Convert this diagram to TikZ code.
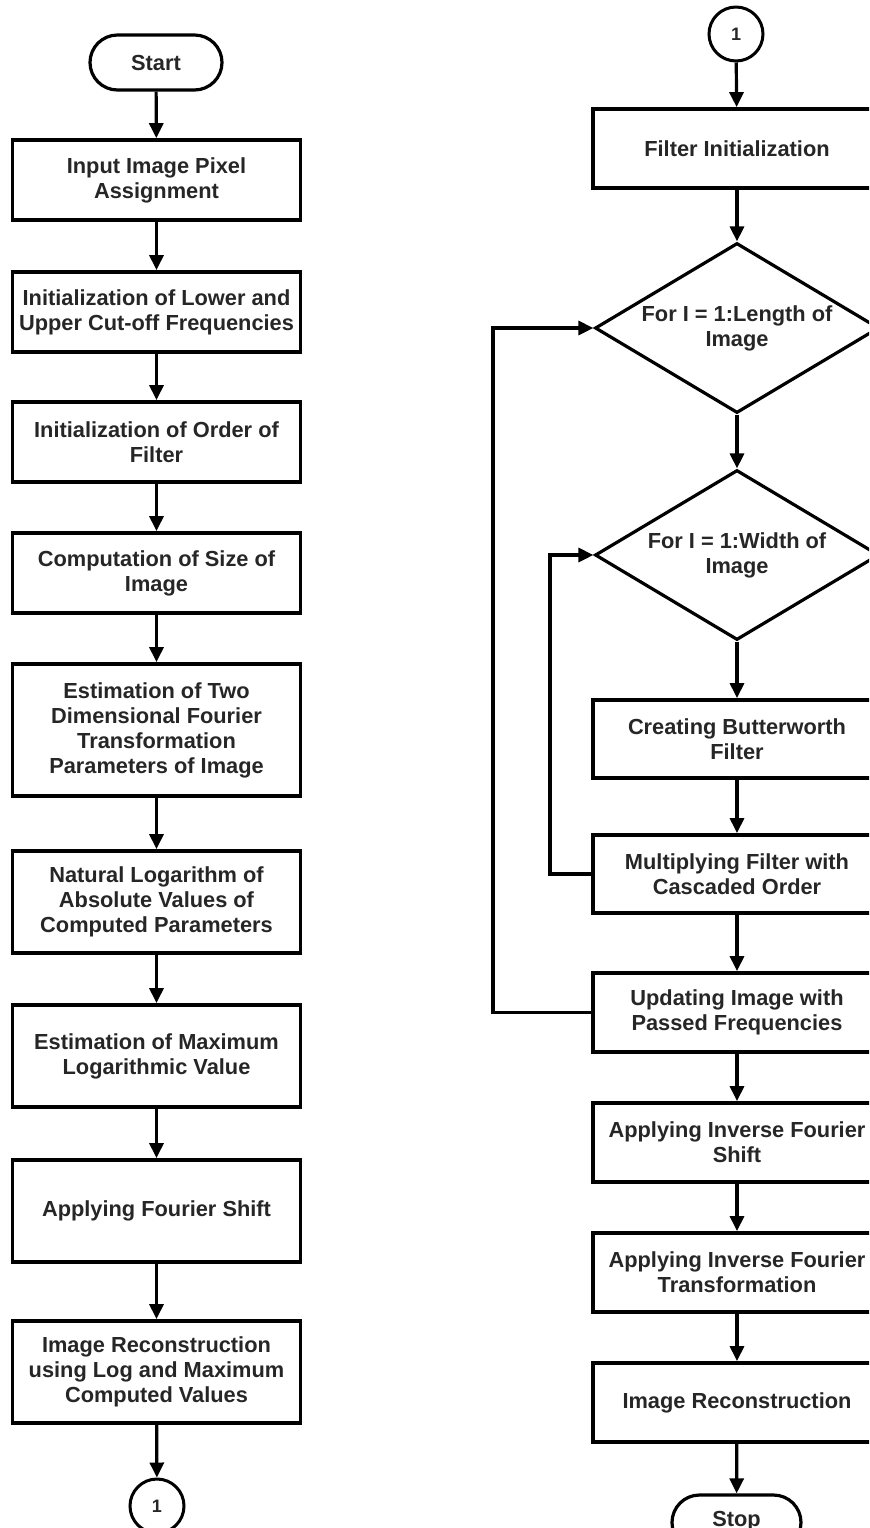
\documentclass[tikz,border=0pt]{standalone}
\usepackage{fontspec}
\setmainfont{Liberation Sans}
\usetikzlibrary{shapes.geometric,shapes.misc,arrows.meta}
\begin{document}
\begin{tikzpicture}[x=0.5pt,y=-0.5pt,
  font=\bfseries\fontsize{10.9}{12.5}\selectfont,
  box/.style={draw,line width=1.9pt,rectangle,minimum width=144pt,inner sep=0pt,align=center,text=black!85},
  term/.style={draw,line width=1.6pt,rounded rectangle,minimum width=66pt,minimum height=27.5pt,inner sep=0pt,text=black!85},
  conn/.style={draw,line width=1.5pt,circle,minimum size=27pt,inner sep=0pt,font=\bfseries\fontsize{9}{10}\selectfont,text=black!85},
  dec/.style={draw,line width=1.6pt,diamond,aspect=1.67,minimum width=142pt,minimum height=85pt,inner sep=0pt,align=center,text=black!85},
  arr/.style={line width=1.6pt,-{Triangle[length=7.5pt,width=7pt]}},
  ln/.style={line width=1.6pt}]
\useasboundingbox (0,0) rectangle (869,1528);
\clip (0,0) rectangle (869,1528);
% left column
\node[term] (start) at (156,62.5) {Start};
\node[box,minimum height=40pt] (b1) at (156.5,180) {Input Image Pixel\\Assignment};
\node[box,minimum height=40pt] (b2) at (156.5,312) {Initialization of Lower and\\Upper Cut-off Frequencies};
\node[box,minimum height=40pt] (b3) at (156.5,442) {Initialization of Order of\\Filter};
\node[box,minimum height=40pt] (b4) at (156.5,573) {Computation of Size of\\Image};
\node[box,minimum height=66pt] (b5) at (156.5,730) {Estimation of Two\\Dimensional Fourier\\Transformation\\Parameters of Image};
\node[box,minimum height=51pt] (b6) at (156.5,902) {Natural Logarithm of\\Absolute Values of\\Computed Parameters};
\node[box,minimum height=51pt] (b7) at (156.5,1056) {Estimation of Maximum\\Logarithmic Value};
\node[box,minimum height=51pt] (b8) at (156.5,1211) {Applying Fourier Shift};
\node[box,minimum height=51pt] (b9) at (156.5,1372) {Image Reconstruction\\using Log and Maximum\\Computed Values};
\node[conn] (c1) at (157,1506) {1};
\draw[arr] (start) -- (b1);
\draw[arr] (b1) -- (b2);
\draw[arr] (b2) -- (b3);
\draw[arr] (b3) -- (b4);
\draw[arr] (b4) -- (b5);
\draw[arr] (b5) -- (b6);
\draw[arr] (b6) -- (b7);
\draw[arr] (b7) -- (b8);
\draw[arr] (b8) -- (b9);
\draw[arr] (b9) -- (c1);
% right column
\node[conn] (c2) at (736,34) {1};
\node[box,minimum height=39.5pt] (r1) at (737,148.5) {Filter Initialization};
\node[dec] (d1) at (737,328) {For I = 1:Length of\\Image};
\node[dec] (d2) at (737,555) {For I = 1:Width of\\Image};
\node[box,minimum height=39pt] (r2) at (737,739) {Creating Butterworth\\Filter};
\node[box,minimum height=39pt] (r3) at (737,874) {Multiplying Filter with\\Cascaded Order};
\node[box,minimum height=39.5pt] (r4) at (737,1012.5) {Updating Image with\\Passed Frequencies};
\node[box,minimum height=39.5pt] (r5) at (737,1142.5) {Applying Inverse Fourier\\Shift};
\node[box,minimum height=39.5pt] (r6) at (737,1272.5) {Applying Inverse Fourier\\Transformation};
\node[box,minimum height=39.5pt] (r7) at (737,1402.5) {Image Reconstruction};
\node[term,minimum width=64.5pt] (stop) at (736.5,1522.5) {\raisebox{4pt}{Stop}};
\draw[arr] (c2) -- (r1);
\draw[arr] (r1) -- (d1);
\draw[arr] (d1) -- (d2);
\draw[arr] (d2) -- (r2);
\draw[arr] (r2) -- (r3);
\draw[arr] (r3) -- (r4);
\draw[arr] (r4) -- (r5);
\draw[arr] (r5) -- (r6);
\draw[arr] (r6) -- (r7);
\draw[arr] (r7) -- (stop);
\draw[arr] (r3.west) -- (550,874) |- (d2.west);
\draw[arr] (r4.west) -- (493,1012.5) |- (d1.west);
\end{tikzpicture}
\end{document}
